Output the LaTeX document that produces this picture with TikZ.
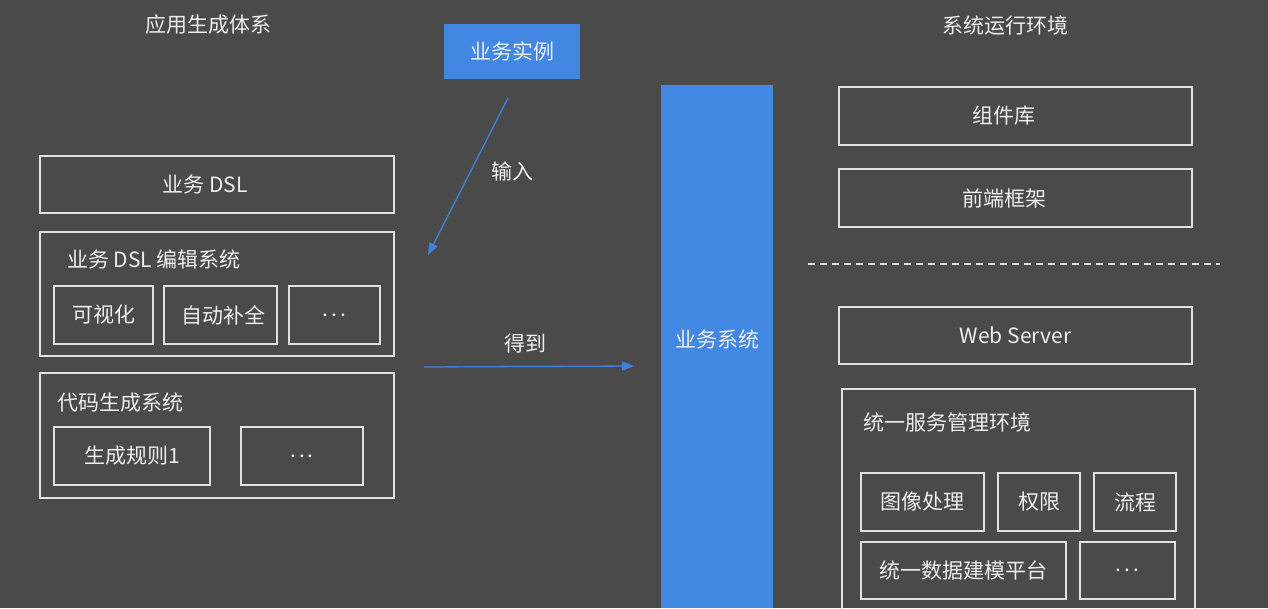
\documentclass[tikz,border=0pt]{standalone}
\usepackage{fontspec}
\setmainfont{Noto Sans CJK SC}
\usetikzlibrary{arrows.meta}
\definecolor{bg}{HTML}{4A4A4A}
\definecolor{fg}{HTML}{EEEEEE}
\definecolor{lineC}{HTML}{E2E2E2}
\definecolor{blueC}{HTML}{4287E2}
\definecolor{arrC}{HTML}{3E82DC}
\newcommand{\mydots}{.\hspace{3pt}.\hspace{3pt}.}
\tikzset{
  box/.style={draw=lineC,line width=1.6pt,inner sep=0pt,outer sep=0pt,text=fg,font=\fontsize{21}{25}\selectfont},
  bluebox/.style={fill=blueC,draw=none,inner sep=0pt,outer sep=0pt,text=fg,font=\fontsize{21}{25}\selectfont},
  lbl/.style={text=fg,inner sep=0pt,font=\fontsize{21}{25}\selectfont},
  conn/.style={draw=arrC,line width=1.3pt,-{Triangle[length=12pt,width=9pt]}}
}
\begin{document}
\begin{tikzpicture}[x=1pt,y=-1pt]
\fill[bg] (0,0) rectangle (1268,608);
\useasboundingbox (0,0) rectangle (1268,608);
% titles
\node[lbl] (t1) at (208,25) {应用生成体系};
\node[lbl] (t2) at (1005,25) {系统运行环境};
% left column
\node[box,minimum width=354,minimum height=57,label={[lbl,xshift=-12pt]center:业务 DSL}] (dsl) at (217,184.5) {};
\node[box,minimum width=354,minimum height=124] (edit) at (217,294) {};
\node[lbl,anchor=west] (editt) at (67,259) {业务 DSL 编辑系统};
\node[box,minimum width=99,minimum height=58] (vis) at (103.5,315) {可视化};
\node[box,minimum width=113,minimum height=58] (auto) at (220.5,315) {\hspace{6pt}自动补全};
\node[box,minimum width=91,minimum height=58] (dots1) at (334.5,315) {\mydots};
\node[box,minimum width=354,minimum height=125] (gen) at (217,435.5) {};
\node[lbl,anchor=west] (gent) at (57,403) {代码生成系统};
\node[box,minimum width=156,minimum height=58] (rule) at (132,456) {生成规则1};
\node[box,minimum width=122,minimum height=58] (dots2) at (302,456) {\mydots};
% middle
\node[bluebox,minimum width=136,minimum height=55] (inst) at (512,51.5) {业务实例};
\fill[blueC] (661,85) rectangle (773,608);
\node[lbl] (sys) at (717,339) {业务系统};
\coordinate (a1s) at (508,98);
\coordinate (a1e) at (428,255);
\draw[conn] (a1s) -- (a1e);
\node[lbl] (inp) at (512,171) {输入};
\coordinate (a2s) at (424,367);
\coordinate (a2e) at (634,366);
\draw[conn] (a2s) -- (a2e);
\node[lbl] (got) at (525,344) {得到};
% right column
\node[box,minimum width=353,minimum height=58,label={[lbl,xshift=-12pt]center:组件库}] (comp) at (1015.5,116) {};
\node[box,minimum width=353,minimum height=58,label={[lbl,xshift=-11pt]center:前端框架}] (fe) at (1015.5,198) {};
\coordinate (d1) at (808,264);
\coordinate (d2) at (1220,264);
\draw[lineC,line width=1.3pt,dash pattern=on 7pt off 5pt] (d1) -- (d2);
\node[box,minimum width=353,minimum height=57] (web) at (1015.5,335.5) {Web Server};
\draw[lineC,line width=1.6pt] (842,620) -- (842,389) -- (1195,389) -- (1195,620);
\node[lbl,anchor=west] (svct) at (863,422) {统一服务管理环境};
\node[box,minimum width=123,minimum height=58] (img) at (922.5,502) {图像处理};
\node[box,minimum width=82,minimum height=58] (perm) at (1039,502) {权限};
\node[box,minimum width=82,minimum height=58] (flow) at (1135,502) {流程};
\node[box,minimum width=205,minimum height=57] (data) at (963.5,570.5) {统一数据建模平台};
\node[box,minimum width=95,minimum height=57] (dots3) at (1127.5,570.5) {\mydots};
\end{tikzpicture}
\end{document}
